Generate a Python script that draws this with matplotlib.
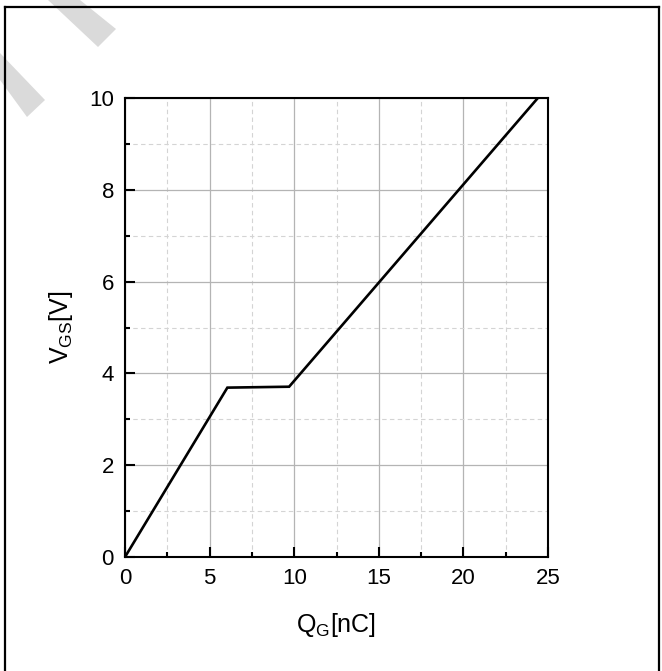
"""Gate charge characteristic: V_GS versus Q_G."""
import matplotlib
matplotlib.use("Agg")
import matplotlib.pyplot as plt
from matplotlib.lines import Line2D
from matplotlib.patches import Polygon
from matplotlib.ticker import MultipleLocator

plt.rcParams["font.family"] = ["Liberation Sans", "DejaVu Sans"]
plt.rcParams["mathtext.fontset"] = "custom"
plt.rcParams["mathtext.rm"] = "Liberation Sans"

# gate charge curve (nC, V)
qg = [0.0, 6.05, 9.7, 24.4]
vgs = [0.0, 3.69, 3.71, 10.0]

x_major = 5
y_major = 2

W, H = 662, 671
fig = plt.figure(figsize=(W / 100, H / 100), dpi=100)


def px(x, y):
    """Pixel position (from top-left) to figure fraction."""
    return x / W, 1 - y / H


# light grey diagonal stamp strokes in the corner
for pts in ([(48, 0), (80, 0), (116, 29), (98, 47)],
            [(0, 53), (0, 80), (27, 117), (45, 100)]):
    fig.add_artist(Polygon([px(*p) for p in pts], closed=True,
                           transform=fig.transFigure, facecolor="#dadada",
                           edgecolor="none"))

# cell border around the figure
for xs, ys in (((5, 5), (7, H)), ((5, 659), (7, 7)), ((659, 659), (7, H))):
    a = px(xs[0], ys[0])
    b = px(xs[1], ys[1])
    fig.add_artist(Line2D([a[0], b[0]], [a[1], b[1]], transform=fig.transFigure,
                          color="black", linewidth=1.6))

ax = fig.add_axes([125 / W, 1 - 557 / H, (548 - 125) / W, (557 - 98) / H])

ax.plot(qg, vgs, color="black", linewidth=1.9, solid_joinstyle="miter", zorder=3)

ax.set_xlim(0, 25)
ax.set_ylim(0, 10)
ax.xaxis.set_major_locator(MultipleLocator(x_major))
ax.xaxis.set_minor_locator(MultipleLocator(x_major / 2))
ax.yaxis.set_major_locator(MultipleLocator(y_major))
ax.yaxis.set_minor_locator(MultipleLocator(y_major / 2))

ax.grid(which="major", color="#b4b4b4", linewidth=0.9, linestyle="-")
ax.grid(which="minor", color="#d4d4d4", linewidth=0.8, linestyle=(0, (4, 3)))
ax.set_axisbelow(True)

for s in ax.spines.values():
    s.set_linewidth(1.5)

ax.tick_params(which="both", direction="in", top=False, right=False,
               width=1.5, labelsize=16, colors="black")
ax.tick_params(which="major", length=7, pad=8)
ax.tick_params(which="minor", length=3.5)

ax.set_xlabel(r"$\mathregular{Q_G[nC]}$", fontsize=18, labelpad=16)
ax.set_ylabel(r"$\mathregular{V_{GS}[V]}$", fontsize=18, labelpad=10)

fig.savefig("out.png", dpi=100)
